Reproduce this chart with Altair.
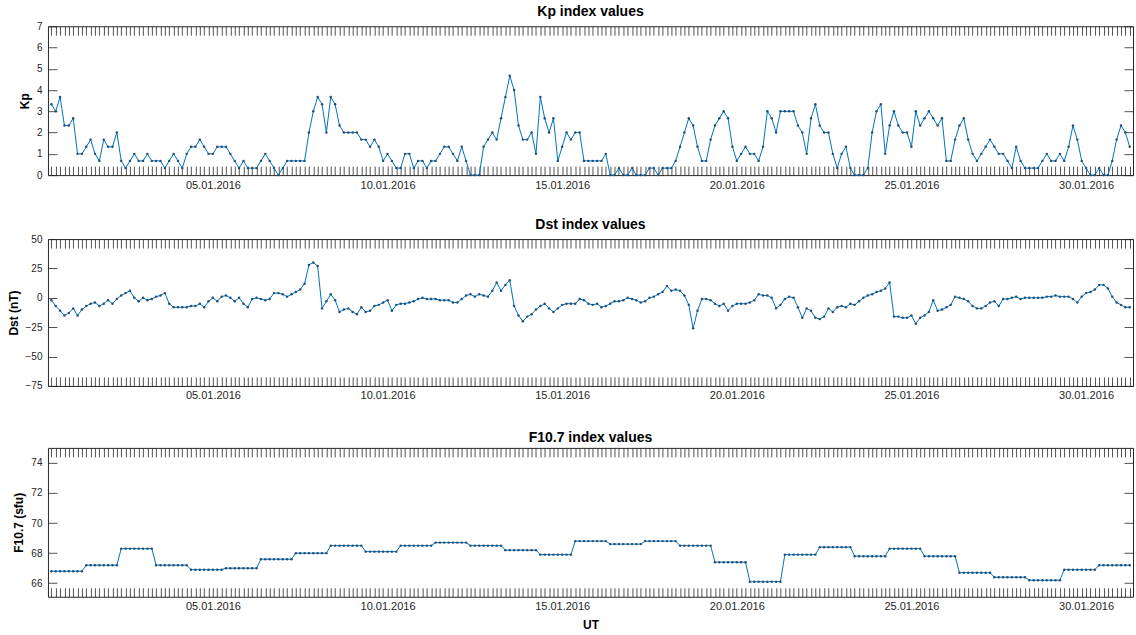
import altair as alt
import pandas as pd

# 3-hourly samples, first sample 31.12.2015 09:00 UT
FIRST_SAMPLE = "2015-12-31 09:00"
N_SAMPLES = 248

kp_values = [
    3.33, 3.0, 3.67, 2.33, 2.33, 2.67, 1.0, 1.0,
    1.33, 1.67, 1.0, 0.67, 1.67, 1.33, 1.33, 2.0,
    0.67, 0.33, 0.67, 1.0, 0.67, 0.67, 1.0, 0.67,
    0.67, 0.67, 0.33, 0.67, 1.0, 0.67, 0.33, 1.0,
    1.33, 1.33, 1.67, 1.33, 1.0, 1.0, 1.33, 1.33,
    1.33, 1.0, 0.67, 0.33, 0.67, 0.33, 0.33, 0.33,
    0.67, 1.0, 0.67, 0.33, 0.0, 0.33, 0.67, 0.67,
    0.67, 0.67, 0.67, 2.0, 3.0, 3.67, 3.33, 2.0,
    3.67, 3.33, 2.33, 2.0, 2.0, 2.0, 2.0, 1.67,
    1.67, 1.33, 1.67, 1.33, 0.67, 1.0, 0.67, 0.33,
    0.33, 1.0, 1.0, 0.33, 0.67, 0.67, 0.33, 0.67,
    0.67, 1.0, 1.33, 1.33, 1.0, 0.67, 1.33, 0.67,
    0.0, 0.0, 0.0, 1.33, 1.67, 2.0, 1.67, 2.67,
    3.67, 4.67, 4.0, 2.33, 1.67, 1.67, 2.0, 1.0,
    3.67, 2.67, 2.0, 2.67, 0.67, 1.33, 2.0, 1.67,
    2.0, 2.0, 0.67, 0.67, 0.67, 0.67, 0.67, 1.0,
    0.0, 0.0, 0.33, 0.0, 0.0, 0.33, 0.0, 0.0,
    0.0, 0.33, 0.33, 0.0, 0.33, 0.33, 0.33, 0.67,
    1.33, 2.0, 2.67, 2.33, 1.33, 0.67, 0.67, 1.67,
    2.33, 2.67, 3.0, 2.67, 1.33, 0.67, 1.0, 1.33,
    1.0, 1.0, 0.67, 1.33, 3.0, 2.67, 2.0, 3.0,
    3.0, 3.0, 3.0, 2.33, 2.0, 1.0, 2.67, 3.33,
    2.33, 2.0, 2.0, 1.0, 0.33, 1.0, 1.33, 0.33,
    0.0, 0.0, 0.0, 0.33, 2.0, 3.0, 3.33, 1.0,
    2.33, 3.0, 2.33, 2.0, 2.0, 1.33, 3.0, 2.33,
    2.67, 3.0, 2.67, 2.33, 2.67, 0.67, 0.67, 1.67,
    2.33, 2.67, 1.67, 1.0, 0.67, 1.0, 1.33, 1.67,
    1.33, 1.0, 1.0, 0.67, 0.33, 1.33, 0.67, 0.33,
    0.33, 0.33, 0.33, 0.67, 1.0, 0.67, 0.67, 1.0,
    0.67, 1.33, 2.33, 1.67, 0.67, 0.33, 0.0, 0.0,
    0.33, 0.0, 0.0, 0.67, 1.67, 2.33, 2.0, 1.33,
]

dst_values = [
    -2, -7, -11, -15, -13, -9, -15, -10,
    -7, -5, -4, -7, -5, -2, -5, -1,
    2, 4, 6, 0, -3, 0, -2, -1,
    1, 2, 4, -5, -8, -8, -8, -8,
    -7, -7, -5, -8, -3, 0, -3, 1,
    2, 0, -3, 0, -5, -8, -1, 0,
    -1, -2, -1, 4, 4, 3, 1, 3,
    5, 7, 12, 28, 30, 27, -9, -3,
    3, -2, -12, -10, -9, -12, -14, -8,
    -12, -11, -7, -6, -4, -2, -11, -6,
    -5, -5, -4, -3, -1, 0, -1, -1,
    -1, -2, -2, -2, -4, -4, -1, 2,
    3, 1, 3, 2, 1, 6, 13, 6,
    11, 15, -7, -15, -20, -16, -14, -10,
    -7, -5, -9, -12, -9, -6, -5, -5,
    -5, -1, -2, -5, -6, -5, -8, -7,
    -5, -3, -3, -2, 0, -1, -2, -4,
    -3, 0, 1, 3, 5, 10, 6, 7,
    6, 2, -6, -26, -11, -1, -1, -2,
    -5, -7, -5, -11, -7, -5, -5, -5,
    -4, -2, 3, 2, 2, 0, -9, -6,
    -1, 1, 0, -8, -17, -9, -11, -17,
    -18, -16, -9, -12, -8, -7, -8, -5,
    -6, -3, 0, 2, 3, 5, 6, 8,
    13, -16, -16, -17, -17, -15, -22, -17,
    -15, -12, -2, -11, -10, -8, -6, 1,
    0, -1, -3, -7, -9, -9, -7, -4,
    -3, -7, -1, -1, 0, 1, -1, 0,
    0, 0, 0, 0, 1, 1, 2, 1,
    1, 1, -1, -4, 1, 4, 5, 7,
    11, 11, 8, 1, -4, -6, -8, -8,
]

# daily F10.7 flux, each day covers 8 three-hour samples
f107_daily = [
    66.8, 67.2, 68.3, 67.2, 66.9, 67.0, 67.6, 68.0, 68.5, 68.1,
    68.5, 68.7, 68.5, 68.2, 67.9, 68.8, 68.6, 68.8, 68.5, 67.4,
    66.1, 67.9, 68.4, 67.8, 68.3, 67.8, 66.7, 66.4, 66.2, 66.9,
    67.2,
]

kp_ticks = [0, 1, 2, 3, 4, 5, 6, 7]
dst_ticks = [-75, -50, -25, 0, 25, 50]
f107_ticks = [66, 68, 70, 72, 74]

times = pd.date_range(FIRST_SAMPLE, periods=N_SAMPLES, freq="3h", tz="UTC")
time_ms = (times.asi8 // 1_000_000).tolist()

df = pd.DataFrame({
    "time": [t.strftime("%Y-%m-%dT%H:%M:%SZ") for t in times],
    "kp": kp_values,
    "dst": dst_values,
    "f107": [v for v in f107_daily for _ in range(8)],
})

x_start = int(pd.Timestamp("2015-12-31 06:40", tz="UTC").value // 1_000_000)
x_end = int(pd.Timestamp("2016-01-31 08:15", tz="UTC").value // 1_000_000)
x_scale = alt.Scale(type="utc", domain=[x_start, x_end])

FONT = "Liberation Sans"
INK = "#262626"
LINE_BLUE = "#0072BD"
DOT_BLUE = "#1f4e79"
TICK = 9
W = 1086

date_label = ("utchours(datum.value) == 0 && utcdate(datum.value) % 5 == 0"
              " ? utcFormat(datum.value, '%d.%m.%Y') : ''")


def panel(field, title, ytitle, ydomain, yticks, height, xtitle=None):
    bottom_axis = alt.Axis(
        orient="bottom", values=time_ms, offset=-TICK, tickSize=TICK,
        domain=False, grid=False, labelExpr=date_label, labelOverlap=False,
        labelFlush=False, labelPadding=4, labelFontSize=11,
        title=xtitle, titleFontSize=12, titleFontWeight="bold", titlePadding=8,
    )
    top_axis = alt.Axis(
        orient="top", values=time_ms, offset=-TICK, tickSize=TICK,
        domain=False, grid=False, labels=False, title=None,
    )
    left_axis = alt.Axis(
        orient="left", values=yticks, offset=-TICK, tickSize=TICK,
        domain=False, grid=False, labelPadding=6, labelFontSize=10,
        title=ytitle, titleFontSize=12, titleFontWeight="bold", titlePadding=5,
    )
    right_axis = alt.Axis(
        orient="right", values=yticks, offset=-TICK, tickSize=TICK,
        domain=False, grid=False, labels=False, title=None,
    )
    y_scale = alt.Scale(domain=ydomain, nice=False, zero=False)

    line = alt.Chart(df).mark_line(color=LINE_BLUE, strokeWidth=1).encode(
        x=alt.X("time:T", scale=x_scale, axis=bottom_axis),
        y=alt.Y(f"{field}:Q", scale=y_scale, axis=left_axis),
    )
    dots = alt.Chart(df).mark_circle(color=DOT_BLUE, size=6, opacity=1).encode(
        x=alt.X("time:T", scale=x_scale, axis=top_axis),
        y=alt.Y(f"{field}:Q", scale=y_scale, axis=right_axis),
    )
    return alt.layer(line, dots).resolve_axis(x="independent", y="independent").properties(
        width=W, height=height,
        title=alt.Title(title, fontSize=14, fontWeight="bold", font=FONT,
                        color="#000000", offset=2, anchor="middle"),
    )


upper = alt.vconcat(
    panel("kp", "Kp index values", "Kp", [0, 7], kp_ticks, 149),
    panel("dst", "Dst index values", "Dst (nT)", [-75, 50], dst_ticks, 147),
    spacing=26,
)
lower = panel("f107", "F10.7 index values", "F10.7 (sfu)", [65.1, 75], f107_ticks, 149,
              xtitle="UT")

chart = alt.vconcat(upper, lower, spacing=29).properties(
    padding={"left": 6, "right": 2, "top": 4, "bottom": 0},
    background="white",
).configure_view(
    stroke=INK, strokeWidth=1,
).configure_axis(
    labelFont=FONT, titleFont=FONT, labelColor=INK, titleColor="#000000",
    tickColor=INK, tickWidth=0.8,
)

chart.save("out.html", embed_options={"renderer": "svg", "actions": False})
